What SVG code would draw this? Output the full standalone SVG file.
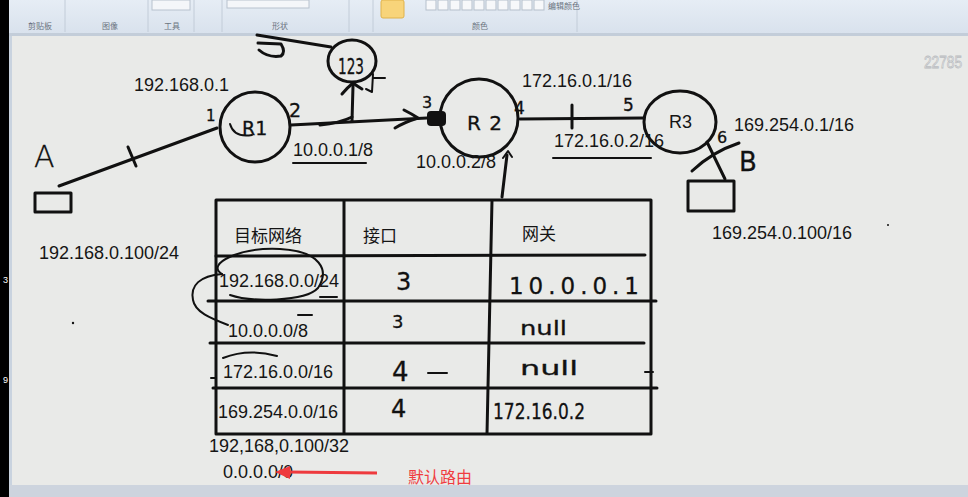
<svg xmlns="http://www.w3.org/2000/svg" width="968" height="497" viewBox="0 0 968 497">
<defs>
<linearGradient id="tb" x1="0" y1="0" x2="0" y2="1"><stop offset="0" stop-color="#e6edf5"/><stop offset="1" stop-color="#d9e2ed"/></linearGradient>
</defs>
<style>
.ink{fill:none;stroke:#111;stroke-width:3;stroke-linecap:round;stroke-linejoin:round}
.thin{fill:none;stroke:#111;stroke-width:2;stroke-linecap:round;stroke-linejoin:round}
.t{font-family:"Liberation Sans","Noto Sans CJK SC",sans-serif;font-size:18px;fill:#151515}
.cn{font-family:"Noto Sans CJK SC","Liberation Sans",sans-serif;font-size:17px;fill:#151515}
.hw{font-family:"DejaVu Sans","Liberation Sans",sans-serif;fill:#111;stroke:#111;stroke-width:0.3}
.tbl{font-family:"Noto Sans CJK SC",sans-serif;font-size:8px;fill:#6b7480}
.sep{stroke:#c2ccd8;stroke-width:1}
</style>
<!-- window chrome -->
<rect x="0" y="0" width="968" height="497" fill="#e9eae8"/>
<rect x="0" y="0" width="968" height="33" fill="url(#tb)"/>
<rect x="0" y="33" width="968" height="3" fill="#c3cdd9"/>
<rect x="0" y="485" width="968" height="12" fill="#cdd4de"/>
<rect x="0" y="0" width="9" height="497" fill="#000"/>
<rect x="9" y="36" width="3" height="449" fill="#c9d3df"/>
<text x="3" y="283" font-family="Liberation Sans,sans-serif" font-size="9" fill="#fff">3</text>
<text x="3" y="383" font-family="Liberation Sans,sans-serif" font-size="9" fill="#fff">9</text>
<g id="toolbar">
<line class="sep" x1="65" y1="0" x2="65" y2="32"/>
<line class="sep" x1="148" y1="0" x2="148" y2="32"/>
<line class="sep" x1="194" y1="0" x2="194" y2="32"/>
<line class="sep" x1="222" y1="0" x2="222" y2="32"/>
<line class="sep" x1="349" y1="0" x2="349" y2="32"/>
<line class="sep" x1="373" y1="0" x2="373" y2="32"/>
<line class="sep" x1="577" y1="0" x2="577" y2="32"/>
<rect x="381" y="0" width="23" height="18" rx="2" fill="#f8d47a" stroke="#e0b24a"/>
<rect x="152" y="0" width="38" height="10" fill="#f4f6f9" stroke="#b8c2ce"/>
<rect x="227" y="0" width="82" height="8" fill="#f4f6f9" stroke="#b8c2ce"/>
<g fill="#f7f8fa" stroke="#b5bfcb">
<rect x="426" y="0" width="10" height="10"/><rect x="438" y="0" width="10" height="10"/><rect x="450" y="0" width="10" height="10"/><rect x="462" y="0" width="10" height="10"/><rect x="474" y="0" width="10" height="10"/><rect x="486" y="0" width="10" height="10"/><rect x="498" y="0" width="10" height="10"/><rect x="510" y="0" width="10" height="10"/><rect x="522" y="0" width="10" height="10"/><rect x="534" y="0" width="10" height="10"/>
</g>
<text class="tbl" x="28" y="29">剪贴板</text>
<text class="tbl" x="102" y="29">图像</text>
<text class="tbl" x="164" y="29">工具</text>
<text class="tbl" x="272" y="29">形状</text>
<text class="tbl" x="472" y="29">颜色</text>
<text class="tbl" x="548" y="9" font-size="7">编辑颜色</text>
</g>
<text x="924" y="68" font-family="Liberation Sans,sans-serif" font-size="16" fill="#fbfbfb" stroke="#b9bcbf" stroke-width="0.8" textLength="38" lengthAdjust="spacingAndGlyphs">22785</text>

<g id="connectors">
<path class="ink" d="M59 186 L217 128"/>
<path class="ink" d="M128 147 L136 166"/>
<path class="ink" d="M257 35 L331 47"/>
<path class="ink" d="M291 125 L427 118"/>
<path class="ink" d="M404 110 Q412 114 418 118 Q405 122 395 128"/>
<path class="ink" d="M352 121 L353 86"/>
<path class="ink" d="M342 94 Q348 87 353 83 Q357 86 362 89"/>
<path class="ink" d="M320 125 Q340 123 352 117"/>
<path class="ink" d="M520 119 L643 118"/>
<path class="ink" d="M572 105 L572 128"/>
<path class="ink" d="M502 197 L507 155"/>
<path class="thin" d="M503 158 L508 151 L512 157"/>
<path class="ink" d="M707 142 L725 179"/>
<path class="ink" d="M692 171 Q712 152 739 143"/>
</g>

<g id="node-A">
<rect class="ink" x="35" y="193" width="36" height="19"/>
<text class="hw" x="34" y="167" font-size="30" font-weight="300">A</text>
</g>
<g id="node-R1">
<circle class="ink" cx="255" cy="127" r="35"/>
<path class="thin" d="M230 124 Q234 138 252 135"/>
<text class="hw" x="242" y="135" font-size="19">R1</text>
<text class="hw" x="206" y="121" font-size="15">1</text>
<text class="hw" x="289" y="117" font-size="19">2</text>
<text class="t" x="134" y="91">192.168.0.1</text>
<text class="t" x="293" y="156">10.0.0.1/8</text>
<path class="thin" d="M293 163 L366 163"/>
</g>
<g id="node-123">
<ellipse class="ink" cx="352" cy="61" rx="24" ry="21"/>
<text class="hw" x="338" y="74" font-size="21" textLength="26" lengthAdjust="spacingAndGlyphs">123</text>
<path class="ink" d="M258 43 L281 44 Q286 52 281 56 Q268 58 259 50"/>
<path class="thin" d="M373 74 L372 92 L366 89 M374 78 L385 78"/>
</g>
<g id="node-R2">
<circle class="ink" cx="479" cy="118" r="39"/>
<rect x="427" y="111" width="19" height="15" rx="4" fill="#111"/>
<text class="hw" x="467" y="130" font-size="20" textLength="35" lengthAdjust="spacing">R2</text>
<text class="hw" x="422" y="108" font-size="16">3</text>
<text class="hw" x="514" y="114" font-size="17">4</text>
<text class="t" x="416" y="168">10.0.0.2/8</text>
</g>
<g id="node-R3">
<ellipse class="ink" cx="680" cy="122" rx="36" ry="31"/>
<text class="t" x="669" y="128" font-size="17">R3</text>
<text class="hw" x="623" y="111" font-size="17">5</text>
<text class="hw" x="717" y="143" font-size="16">6</text>
<text class="t" x="522" y="87">172.16.0.1/16</text>
<text class="t" x="554" y="147">172.16.0.2/16</text>
<path class="thin" d="M553 158 L651 158"/>
<text class="t" x="734" y="131">169.254.0.1/16</text>
</g>
<g id="node-B">
<rect class="ink" x="688" y="181" width="46" height="30"/>
<text class="hw" x="739" y="171" font-size="26">B</text>
<text class="t" x="712" y="239">169.254.0.100/16</text>
</g>
<text class="t" x="39" y="259">192.168.0.100/24</text>

<g id="table">
<path class="ink" d="M216 200 L651 200 M216 200 L216 434 M344 200 L344 434 M492 200 L487 434 M651 200 L651 434 M216 434 L651 434"/>
<path class="ink" d="M216 256 L645 255 M208 301 L656 301 M210 343 L644 343 M213 388 L657 388"/>
<text class="cn" x="234" y="242">目标网络</text>
<text class="cn" x="363" y="242">接口</text>
<text class="cn" x="522" y="240">网关</text>
<text class="t" x="219" y="287">192.168.0.0/24</text>
<text class="t" x="228" y="337">10.0.0.0/8</text>
<text class="t" x="223" y="378">172.16.0.0/16</text>
<text class="t" x="218" y="418">169.254.0.0/16</text>
<text class="hw" x="396" y="290" font-size="24">3</text>
<text class="hw" x="392" y="328" font-size="18">3</text>
<text class="hw" x="392" y="381" font-size="26">4</text>
<text class="hw" x="391" y="417" font-size="24">4</text>
<text class="hw" x="509" y="294" font-size="23" textLength="130" lengthAdjust="spacing">10.0.0.1</text>
<text class="hw" x="520" y="335" font-size="20" textLength="47" lengthAdjust="spacingAndGlyphs">null</text>
<text class="hw" x="520" y="375" font-size="20" textLength="58" lengthAdjust="spacingAndGlyphs">null</text>
<text class="hw" x="493" y="419" font-size="22" textLength="92" lengthAdjust="spacingAndGlyphs">172.16.0.2</text>
<path class="thin" d="M222 274 C205 264 240 247 280 249 C320 251 330 270 318 288 C305 302 250 302 230 295"/>
<path class="thin" d="M222 274 C200 276 190 285 193 300 C195 312 210 318 228 325"/>
<path class="thin" d="M223 358 Q248 348 277 356"/>
<path class="thin" d="M298 315 L312 315 M428 373 L447 373 M320 297 L337 297 M645 372 L653 372 M211 378 L216 378"/>
<circle cx="73" cy="323" r="1.2" fill="#111"/>
<circle cx="888" cy="225" r="1" fill="#111"/>
<text class="t" x="209" y="452">192,168,0.100/32</text>
<text class="t" x="223" y="478">0.0.0.0/0</text>
<path d="M377 473 L287 472" stroke="#ee3a3e" stroke-width="3" fill="none"/>
<polygon points="275,472 290,466 290,479" fill="#ee3a3e"/>
<text x="408" y="483" font-family="Noto Sans CJK SC,sans-serif" font-size="16" fill="#f03c40">默认路由</text>
</g>
</svg>
